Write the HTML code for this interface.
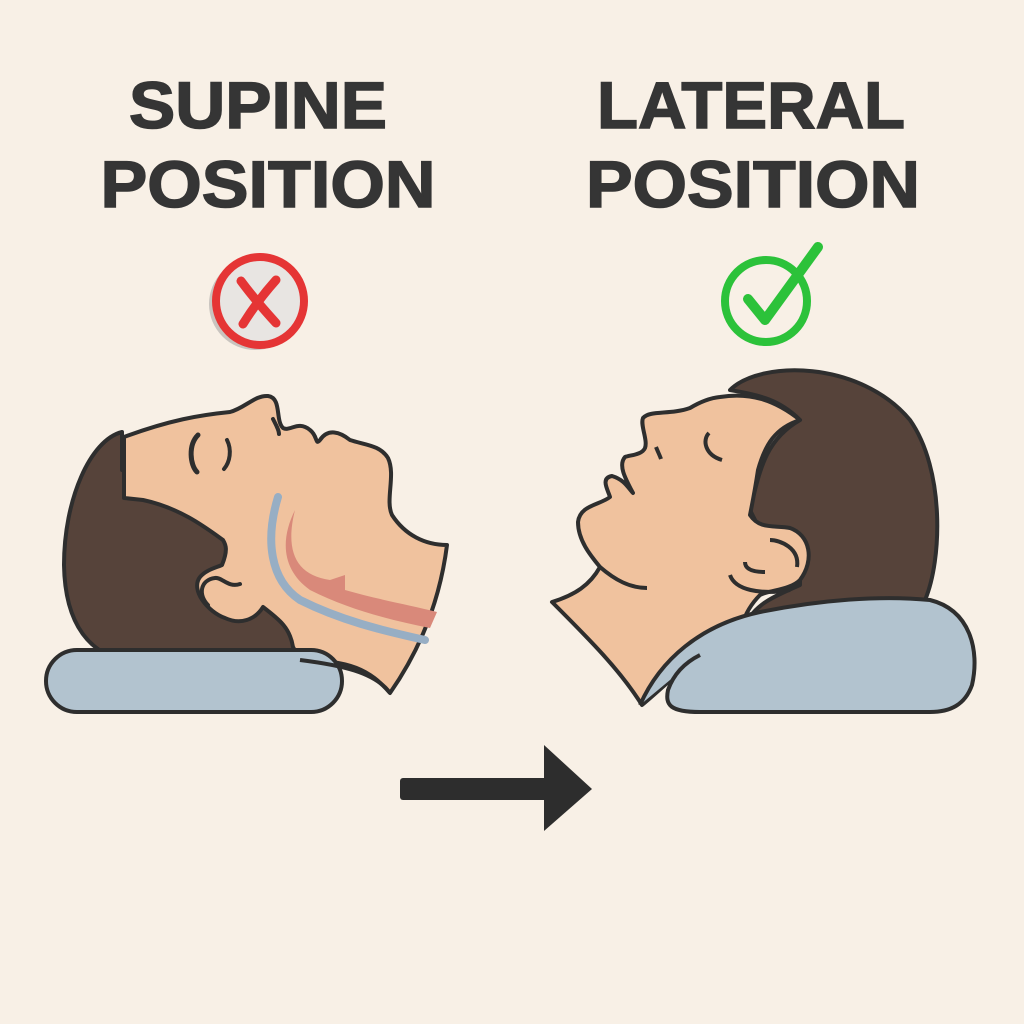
<!DOCTYPE html>
<html><head><meta charset="utf-8"><style>
html,body{margin:0;padding:0;background:#f8f0e6;}
svg{display:block;}
text{font-family:"Liberation Sans",sans-serif;font-weight:bold;fill:#353535;}
</style></head><body>
<svg width="1024" height="1024" viewBox="0 0 1024 1024" xmlns="http://www.w3.org/2000/svg">
<rect width="1024" height="1024" fill="#f8f0e6"/>
<text x="258" y="128" font-size="66" text-anchor="middle" textLength="258" lengthAdjust="spacingAndGlyphs" stroke="#353535" stroke-width="1.5">SUPINE</text>
<text x="268" y="207" font-size="66" text-anchor="middle" textLength="335" lengthAdjust="spacingAndGlyphs" stroke="#353535" stroke-width="1.5">POSITION</text>
<text x="751" y="128" font-size="66" text-anchor="middle" textLength="308" lengthAdjust="spacingAndGlyphs" stroke="#353535" stroke-width="1.5">LATERAL</text>
<text x="753" y="207" font-size="66" text-anchor="middle" textLength="334" lengthAdjust="spacingAndGlyphs" stroke="#353535" stroke-width="1.5">POSITION</text>

<!-- red X icon -->
<circle cx="255" cy="304" r="46" fill="#c9c4bf"/>
<circle cx="260" cy="301" r="44" fill="#e8e5e2" stroke="#e53535" stroke-width="8"/>
<path d="M241,281 Q255,300 276,323 M276,280 Q258,300 243,324" stroke="#e53535" stroke-width="9" fill="none" stroke-linecap="round"/>

<!-- green check icon -->
<circle cx="766" cy="301" r="41" fill="none" stroke="#2cc23a" stroke-width="8"/>
<path d="M748,299 L765,320 L818,247" stroke="#2cc23a" stroke-width="10" fill="none" stroke-linecap="round" stroke-linejoin="round"/>

<g stroke="#2e2e2e" stroke-width="4" stroke-linejoin="round" stroke-linecap="round">
<!-- LEFT FIGURE -->
<path d="M122,432 C90,440 64,500 64,565 C65,625 90,655 130,662 L300,662 C300,640 292,625 287,620 L240,560 L180,480 L122,470 Z" fill="#56433a"/>
<path d="M124,437 C170,420 200,415 230,412 C245,408 255,395 268,396 C282,398 275,420 283,428 C290,432 298,420 310,430 C318,436 315,446 320,440 C328,428 340,432 350,440 C365,445 380,445 388,458 C396,475 385,500 392,515 C405,535 425,545 447,545 C440,600 420,650 390,693 C370,670 350,660 300,660 L293,647 C290,628 280,620 263,607 C255,620 240,625 225,618 C208,612 190,590 200,577 C206,570 215,568 222,565 C228,550 226,545 223,540 C205,527 180,508 143,500 L124,498 Z" fill="#f0c29e"/>
<path d="M208,605 C198,595 200,580 215,578 C222,577 228,588 240,584" fill="none" stroke-width="4"/>
<path d="M198,435 C188,445 190,465 197,472" fill="none" stroke-width="5"/>
<path d="M227,440 C232,450 230,462 224,469" fill="none"/>
<path d="M273,419 C276,425 279,430 279,434" fill="none"/>
</g>
<!-- airway -->
<path d="M278,497 C265,540 270,580 300,600 C340,620 380,630 425,640" fill="none" stroke="#97aec4" stroke-width="8" stroke-linecap="round"/>
<path d="M295,510 C285,550 295,575 330,580 L345,575 L345,590 C380,600 410,605 437,612 L430,628 C390,620 350,610 310,590 C282,570 280,540 295,510 Z" fill="#d9897a"/>
<g stroke="#2e2e2e" stroke-width="4" stroke-linejoin="round">
<rect x="46" y="650" width="296" height="62" rx="31" fill="#b2c3cf"/>
<path d="M300,660 C340,665 375,672 390,693" fill="none"/>

<!-- RIGHT FIGURE -->
<path d="M730,390 C760,360 860,360 910,420 C945,470 942,560 925,600 L745,625 C755,605 770,598 800,585 L800,540 L760,530 L750,510 C760,470 765,440 800,420 C780,400 760,395 730,390 Z" fill="#56433a"/>
<path d="M720,397 C750,392 775,400 800,420 C775,428 765,445 758,470 C755,490 752,505 750,515 C760,530 775,525 790,528 C810,535 815,560 800,580 C790,590 770,590 760,595 C750,605 745,615 742,625 C700,650 672,680 642,705 C620,670 590,640 552,602 C575,595 590,585 600,567 C590,555 578,540 578,522 C580,505 600,505 610,497 C608,490 600,478 612,476 C625,480 628,488 633,493 C625,478 618,465 625,457 C630,455 642,455 645,448 C648,440 640,425 643,418 C650,410 670,415 690,408 C700,402 710,398 720,397 Z" fill="#f0c29e"/>
<path d="M600,567 C615,580 630,588 647,588" fill="none"/>
<path d="M709,433 C702,440 705,455 722,460" fill="none"/>
<path d="M656,447 C658,452 660,456 661,459" fill="none"/>
<path d="M770,540 C780,540 800,548 797,567" fill="none"/>
<path d="M745,562 C745,570 755,572 765,572" fill="none"/>
<path d="M730,575 C735,590 760,595 790,590" fill="none"/>
<path d="M640,705 C660,660 700,625 760,612 C820,600 880,595 930,600 C970,610 980,650 972,685 C965,705 950,712 930,712 L700,712 C670,712 665,705 668,690 C675,670 690,660 700,655" fill="#b2c3cf"/>
</g>

<!-- arrow -->
<rect x="400" y="778" width="150" height="22" rx="3" fill="#2d2d2d"/>
<polygon points="544,745 592,789 544,831" fill="#2d2d2d"/>
</svg>
</body></html>
